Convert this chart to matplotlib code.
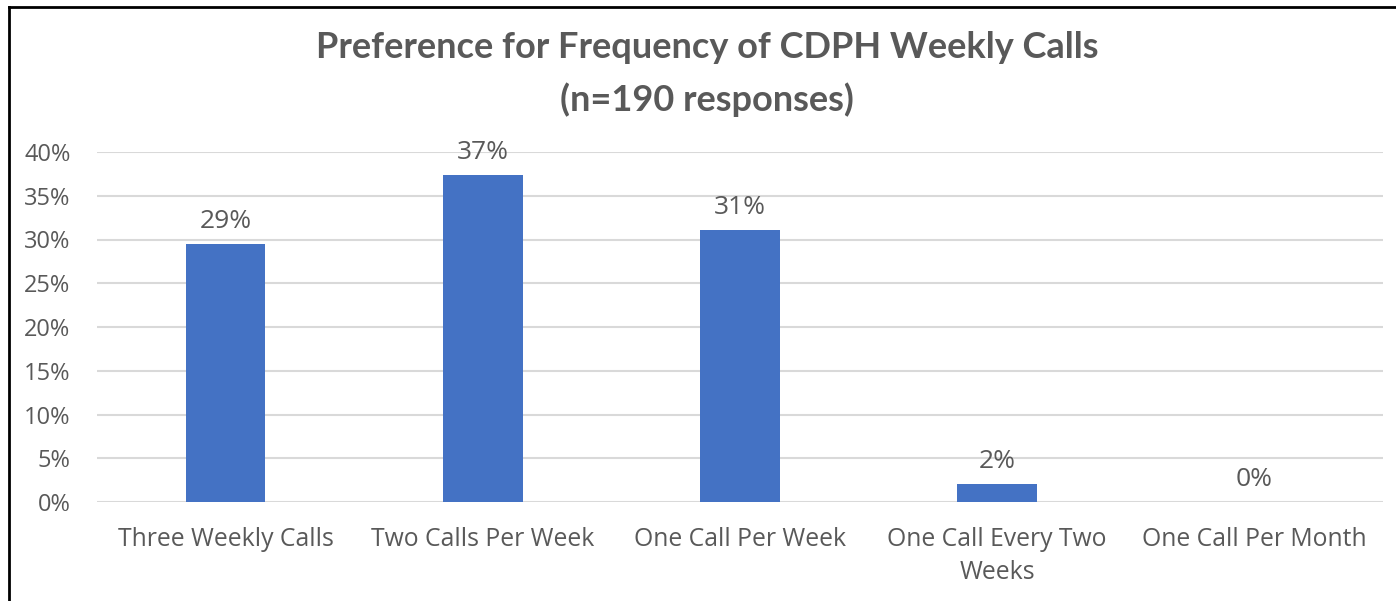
import matplotlib
matplotlib.use("Agg")
import matplotlib.pyplot as plt
from matplotlib.lines import Line2D

categories = ["Three Weekly Calls", "Two Calls Per Week", "One Call Per Week",
              "One Call Every Two\nWeeks", "One Call Per Month"]
values = [0.295, 0.374, 0.311, 0.021, 0.0]
labels = ["29%", "37%", "31%", "2%", "0%"]
yticks = [0, 0.05, 0.10, 0.15, 0.20, 0.25, 0.30, 0.35, 0.40]
ytick_labels = ["0%", "5%", "10%", "15%", "20%", "25%", "30%", "35%", "40%"]

plt.rcParams['font.family'] = ['Open Sans', 'DejaVu Sans']
gray = "#595959"

fig = plt.figure(figsize=(13.96, 6.01), dpi=100)
ax = fig.add_axes([97/1396, 1-502/601, (1383-97)/1396, (502-152)/601])

x = list(range(len(categories)))
ax.bar(x, values, width=0.31, color="#4472C4", zorder=3)
for xi, v, lab in zip(x, values, labels):
    ax.annotate(lab, (xi, v), xytext=(0, 7), textcoords="offset points",
                ha="center", va="bottom", fontsize=19, color=gray)

ax.set_xlim(-0.5, len(categories) - 0.5)
ax.set_ylim(0, 0.40)
ax.set_yticks(yticks)
ax.set_yticklabels(ytick_labels, fontsize=17, color=gray)
ax.set_xticks(x)
ax.set_xticklabels(categories, fontsize=17.8, color=gray, linespacing=1.4)
ax.tick_params(axis="both", length=0)
ax.tick_params(axis="y", pad=19)
ax.tick_params(axis="x", pad=18)
ax.grid(axis="y", color="#D9D9D9", linewidth=1.5, zorder=0)
for s in ax.spines.values():
    s.set_visible(False)

title_kw = dict(ha="center", va="center", fontsize=26, fontweight="bold",
                color=gray, family=['Lato', 'DejaVu Sans'])
fig.text(707/1396, 1-47/601, "Preference for Frequency of CDPH Weekly Calls", **title_kw)
fig.text(707/1396, 1-100/601, "(n=190 responses)", **title_kw)

# outer border (left and top)
fig.add_artist(Line2D([9/1396, 9/1396], [0, 1-7/601], transform=fig.transFigure,
                      color="black", linewidth=2))
fig.add_artist(Line2D([9/1396, 1], [1-7/601, 1-7/601], transform=fig.transFigure,
                      color="black", linewidth=2))

fig.savefig("out.png", dpi=100)
